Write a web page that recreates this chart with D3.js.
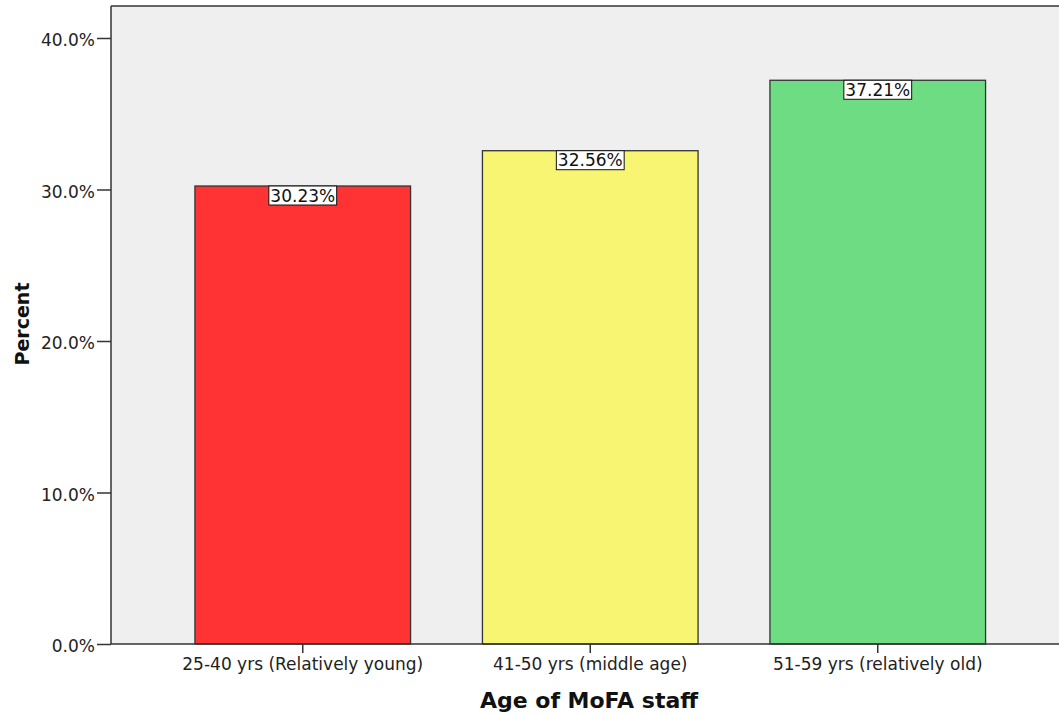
<!DOCTYPE html>
<html><head><meta charset="utf-8">
<script src="https://cdn.jsdelivr.net/npm/d3@7"></script>
<style>body{margin:0;background:#fff;}svg{display:block;}</style>
</head><body>
<script>
const categories = ["25-40 yrs (Relatively young)", "41-50 yrs (middle age)", "51-59 yrs (relatively old)"];
const values = [30.23, 32.56, 37.21];
const colors = ["#FF3333", "#F8F573", "#6EDC82"];
const yTicks = [0, 10, 20, 30, 40];

const FONT = "DejaVu Sans, Verdana, sans-serif";
const W = 1059, H = 715;
const svg = d3.select("body").append("svg").attr("width", W).attr("height", H);
const plot = {left: 111, top: 6, right: 1060, bottom: 644};

const y = d3.scaleLinear().domain([0, 40]).range([644, 38]);
const x = d3.scaleBand().domain(categories).range([159, 1021.5]).paddingInner(0.25).paddingOuter(0.125);

svg.append("rect").attr("x", plot.left).attr("y", plot.top)
  .attr("width", plot.right - plot.left).attr("height", plot.bottom - plot.top)
  .attr("fill", "#EFEFEF");
svg.append("line").attr("x1", plot.left).attr("x2", plot.right).attr("y1", plot.top).attr("y2", plot.top)
  .attr("stroke", "#333").attr("stroke-width", 1.5);

svg.selectAll("rect.bar").data(values).join("rect").attr("class", "bar")
  .attr("x", (d, i) => x(categories[i])).attr("width", x.bandwidth())
  .attr("y", d => y(d)).attr("height", d => y(0) - y(d))
  .attr("fill", (d, i) => colors[i]).attr("stroke", "#333").attr("stroke-width", 1.3);

const yAxis = svg.append("g").attr("transform", `translate(${plot.left},0)`)
  .call(d3.axisLeft(y).tickValues(yTicks).tickFormat(d => d.toFixed(1) + "%").tickSize(14).tickPadding(2));
yAxis.select(".domain").attr("d", `M0,${plot.top}V${plot.bottom}`);
const xAxis = svg.append("g").attr("transform", `translate(0,${plot.bottom})`)
  .call(d3.axisBottom(x).tickSize(9).tickPadding(5));
xAxis.select(".domain").attr("d", `M${plot.left},0H${plot.right}`);
[yAxis, xAxis].forEach(g => {
  g.selectAll(".domain, .tick line").attr("stroke", "#333").attr("stroke-width", 1.5);
  g.selectAll("text").attr("fill", "#222").style("font-family", FONT).style("font-size", "17px");
});
yAxis.selectAll("text").attr("dy", "0.45em");

// value labels
const lab = svg.selectAll("g.lab").data(values).join("g").attr("class", "lab")
  .attr("transform", (d, i) => `translate(${x(categories[i]) + x.bandwidth() / 2},${y(d)})`);
lab.each(function(d) {
  const g = d3.select(this);
  const t = g.append("text").text(d.toFixed(2) + "%").attr("text-anchor", "middle")
    .attr("y", 15.5).attr("fill", "#111")
    .style("font-family", FONT).style("font-size", "17px");
  const bb = t.node().getBBox();
  g.insert("rect", "text").attr("x", bb.x - 1.5).attr("y", 0).attr("width", bb.width + 3).attr("height", 19)
    .attr("fill", "#fff").attr("stroke", "#111").attr("stroke-width", 1);
});

svg.append("text").attr("x", 589).attr("y", 708).attr("text-anchor", "middle")
  .style("font-family", FONT).style("font-size", "22px").style("font-weight", "bold")
  .attr("fill", "#111").text("Age of MoFA staff");
svg.append("text").attr("transform", "translate(29,324) rotate(-90)").attr("text-anchor", "middle")
  .style("font-family", FONT).style("font-size", "19px").style("font-weight", "bold")
  .attr("fill", "#111").text("Percent");
</script>
</body></html>
